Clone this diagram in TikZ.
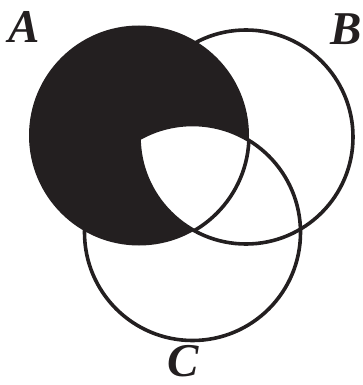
\documentclass[tikz,border=0pt]{standalone}
\usepackage{fontspec}
\setmainfont{Liberation Serif}
\usepackage{tikz}
\usepackage{xcolor}
\definecolor{ink}{HTML}{231F20}

\begin{document}
\begin{tikzpicture}[x=1pt, y=-1pt,
    ring/.style={draw=ink, line width=3.6pt},
    setname/.style={font=\fontsize{47}{47}\selectfont\bfseries\itshape, text=ink, inner sep=0pt}]
    \useasboundingbox (0,0) rectangle (363,385);

    % centres
    \coordinate (ca) at (139,135.5);
    \coordinate (cb) at (246,137);
    \coordinate (cc) at (192.5,232.5);

    % A minus (B and C)
    \fill[ink] (ca) circle (110);
    \begin{scope}
        \clip (cb) circle (107);
        \fill[white] (cc) circle (108);
    \end{scope}

    % outlines
    \draw[ring] (cb) circle (107);
    \draw[ring] (cc) circle (108);
    \begin{scope}
        \clip (cb) circle (107);
        \clip (cc) circle (108);
        \draw[ring] (ca) circle (110);
    \end{scope}

    % labels
    \node[setname] (la) at (24,27) {A};
    \node[setname] (lb) at (346,29) {B};
    \node[setname] (lc) at (183,361) {C};
\end{tikzpicture}
\end{document}
